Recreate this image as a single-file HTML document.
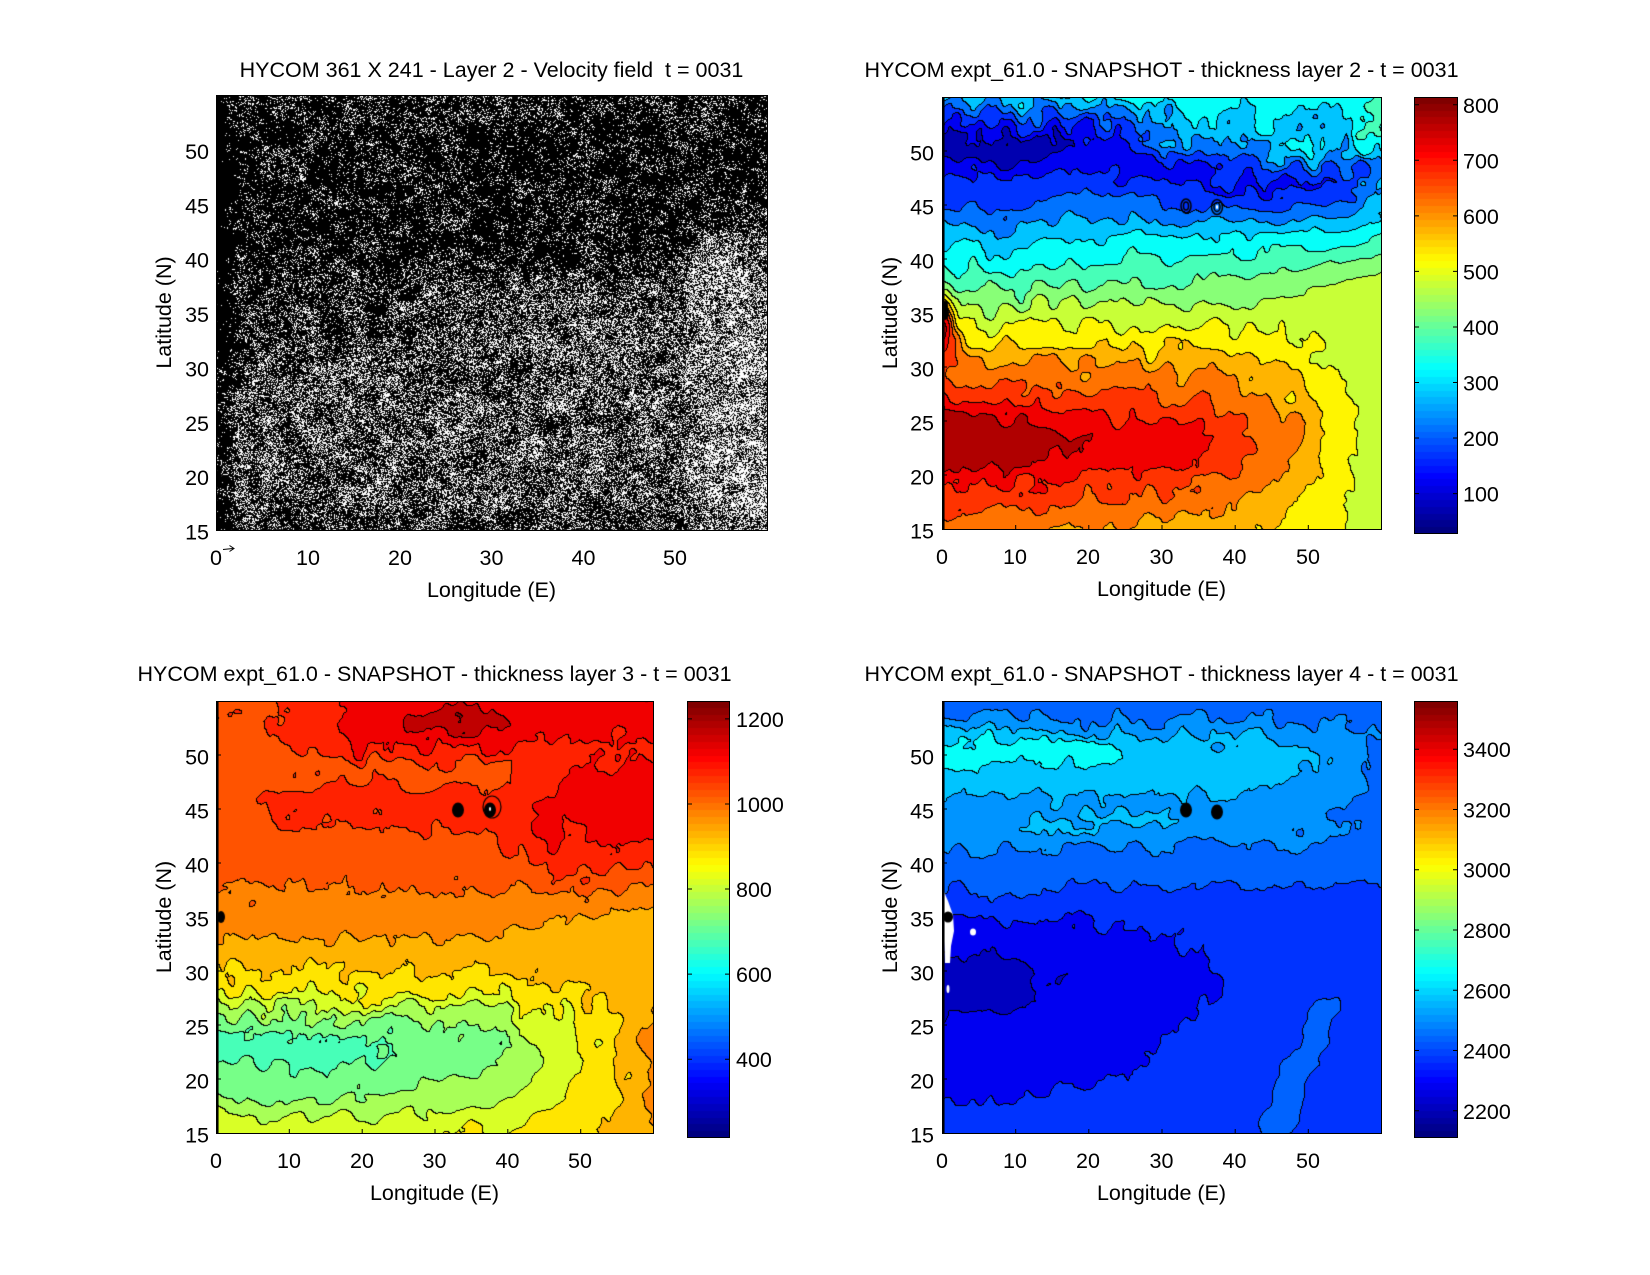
<!DOCTYPE html>
<html><head><meta charset="utf-8">
<style>
html,body{margin:0;padding:0;background:#fff;}
body{width:1650px;height:1275px;position:relative;overflow:hidden;font-family:"Liberation Sans",Arial,sans-serif;}
canvas{position:absolute;display:block;}
svg{position:absolute;left:0;top:0;}
</style></head><body>
<canvas id="c1" width="552" height="436" style="left:216px;top:95px"></canvas>
<canvas id="c2" width="440" height="433" style="left:942px;top:97px"></canvas>
<canvas id="c3" width="438" height="433" style="left:216px;top:701px"></canvas>
<canvas id="c4" width="440" height="433" style="left:942px;top:701px"></canvas>
<canvas id="cb2" width="44" height="437" style="left:1414px;top:97px"></canvas>
<canvas id="cb3" width="43" height="437" style="left:687px;top:701px"></canvas>
<canvas id="cb4" width="44" height="437" style="left:1414px;top:701px"></canvas>

<svg width="1650" height="1275" font-family="Liberation Sans, Arial, sans-serif" font-size="21.5" fill="#000">
<g fill="none" stroke="#000" stroke-width="1">
<!-- P1 -->
<rect x="216.5" y="95.5" width="551" height="435"/>
<path d="M216.5 530v-5M308.3 530v-5M400.2 530v-5M492 530v-5M583.8 530v-5M675.7 530v-5M216.5 96v5M308.3 96v5M400.2 96v5M492 96v5M583.8 96v5M675.7 96v5M217 475.6h5M217 421.3h5M217 366.9h5M217 312.5h5M217 258.1h5M217 203.8h5M217 149.4h5M767 475.6h-5M767 421.3h-5M767 366.9h-5M767 312.5h-5M767 258.1h-5M767 203.8h-5M767 149.4h-5"/>
<path d="M223 549.5L233 548.5M229.5 545.5L234 548.5L229.5 551.5"/>
<!-- P2 -->
<rect x="942.5" y="97.5" width="439" height="432"/>
<path d="M942.5 529v-4M1015.7 529v-4M1088.8 529v-4M1162 529v-4M1235.2 529v-4M1308.3 529v-4M943 475h4M943 421h4M943 367h4M943 313h4M943 259h4M943 205h4M943 151h4"/>
<rect x="1414.5" y="97.5" width="43" height="436"/>
<path d="M1415 493.6h4M1415 438h4M1415 382.5h4M1415 327h4M1415 271.4h4M1415 215.9h4M1415 160.3h4M1415 104.8h4M1457 493.6h-4M1457 438h-4M1457 382.5h-4M1457 327h-4M1457 271.4h-4M1457 215.9h-4M1457 160.3h-4M1457 104.8h-4"/>
<!-- P3 -->
<rect x="216.5" y="701.5" width="437" height="432"/>
<path d="M216.5 1133v-4M289.3 1133v-4M362.2 1133v-4M435 1133v-4M507.8 1133v-4M580.7 1133v-4M217 1079h4M217 1025h4M217 971h4M217 917h4M217 863h4M217 809h4M217 755h4"/>
<rect x="687.5" y="701.5" width="42" height="436"/>
<path d="M688 1059.2h4M688 974.1h4M688 889h4M688 804h4M688 718.9h4M729 1059.2h-4M729 974.1h-4M729 889h-4M729 804h-4M729 718.9h-4"/>
<!-- P4 -->
<rect x="942.5" y="701.5" width="439" height="432"/>
<path d="M942.5 1133v-4M1015.7 1133v-4M1088.8 1133v-4M1162 1133v-4M1235.2 1133v-4M1308.3 1133v-4M943 1079h4M943 1025h4M943 971h4M943 917h4M943 863h4M943 809h4M943 755h4"/>
<rect x="1414.5" y="701.5" width="43" height="436"/>
<path d="M1415 1110.8h4M1415 1050.5h4M1415 990.3h4M1415 930h4M1415 869.7h4M1415 809.5h4M1415 749.2h4M1457 1110.8h-4M1457 1050.5h-4M1457 990.3h-4M1457 930h-4M1457 869.7h-4M1457 809.5h-4M1457 749.2h-4"/>
</g>
<g stroke="#000" stroke-width="2.5">
<path d="M943.3 97v432M217.3 701v432M943.3 701v432"/>
</g>

<!-- P1 text -->
<text x="491.5" y="77" text-anchor="middle">HYCOM 361 X 241 - Layer 2 - Velocity field&#160; t = 0031</text>
<g text-anchor="middle">
<text x="216" y="565">0</text><text x="308" y="565">10</text><text x="400" y="565">20</text><text x="491.5" y="565">30</text><text x="583.5" y="565">40</text><text x="675" y="565">50</text>
</g>
<g text-anchor="end">
<text x="209" y="539.5">15</text><text x="209" y="485">20</text><text x="209" y="431">25</text><text x="209" y="376.5">30</text><text x="209" y="322">35</text><text x="209" y="267.5">40</text><text x="209" y="213.5">45</text><text x="209" y="159">50</text>
</g>
<text x="491.5" y="597" text-anchor="middle">Longitude (E)</text>
<text transform="translate(171,312.5) rotate(-90)" text-anchor="middle">Latitude (N)</text>

<!-- P2 text -->
<text x="1161.5" y="77" text-anchor="middle">HYCOM expt_61.0 - SNAPSHOT - thickness layer 2 - t = 0031</text>
<g text-anchor="middle">
<text x="942" y="564">0</text><text x="1015" y="564">10</text><text x="1088" y="564">20</text><text x="1161.5" y="564">30</text><text x="1234.5" y="564">40</text><text x="1308" y="564">50</text>
</g>
<g text-anchor="end">
<text x="934" y="538.5">15</text><text x="934" y="484.5">20</text><text x="934" y="430.5">25</text><text x="934" y="376.5">30</text><text x="934" y="322.5">35</text><text x="934" y="268.5">40</text><text x="934" y="214.5">45</text><text x="934" y="160.5">50</text>
</g>
<text x="1161.5" y="596" text-anchor="middle">Longitude (E)</text>
<text transform="translate(897,313) rotate(-90)" text-anchor="middle">Latitude (N)</text>
<g>
<text x="1463" y="501.6">100</text><text x="1463" y="446">200</text><text x="1463" y="390.5">300</text><text x="1463" y="335">400</text><text x="1463" y="279.4">500</text><text x="1463" y="223.9">600</text><text x="1463" y="168.3">700</text><text x="1463" y="112.8">800</text>
</g>

<!-- P3 text -->
<text x="434.5" y="681" text-anchor="middle">HYCOM expt_61.0 - SNAPSHOT - thickness layer 3 - t = 0031</text>
<g text-anchor="middle">
<text x="216" y="1168">0</text><text x="289" y="1168">10</text><text x="362" y="1168">20</text><text x="434.5" y="1168">30</text><text x="507.5" y="1168">40</text><text x="580" y="1168">50</text>
</g>
<g text-anchor="end">
<text x="209" y="1142.5">15</text><text x="209" y="1088.5">20</text><text x="209" y="1034.5">25</text><text x="209" y="980.5">30</text><text x="209" y="926.5">35</text><text x="209" y="872.5">40</text><text x="209" y="818.5">45</text><text x="209" y="764.5">50</text>
</g>
<text x="434.5" y="1200" text-anchor="middle">Longitude (E)</text>
<text transform="translate(171,917) rotate(-90)" text-anchor="middle">Latitude (N)</text>
<g>
<text x="736" y="1067.2">400</text><text x="736" y="982.1">600</text><text x="736" y="897">800</text><text x="736" y="812">1000</text><text x="736" y="726.9">1200</text>
</g>

<!-- P4 text -->
<text x="1161.5" y="681" text-anchor="middle">HYCOM expt_61.0 - SNAPSHOT - thickness layer 4 - t = 0031</text>
<g text-anchor="middle">
<text x="942" y="1168">0</text><text x="1015" y="1168">10</text><text x="1088" y="1168">20</text><text x="1161.5" y="1168">30</text><text x="1234.5" y="1168">40</text><text x="1308" y="1168">50</text>
</g>
<g text-anchor="end">
<text x="934" y="1142.5">15</text><text x="934" y="1088.5">20</text><text x="934" y="1034.5">25</text><text x="934" y="980.5">30</text><text x="934" y="926.5">35</text><text x="934" y="872.5">40</text><text x="934" y="818.5">45</text><text x="934" y="764.5">50</text>
</g>
<text x="1161.5" y="1200" text-anchor="middle">Longitude (E)</text>
<text transform="translate(897,917) rotate(-90)" text-anchor="middle">Latitude (N)</text>
<g>
<text x="1463" y="1118.8">2200</text><text x="1463" y="1058.5">2400</text><text x="1463" y="998.3">2600</text><text x="1463" y="938">2800</text><text x="1463" y="877.7">3000</text><text x="1463" y="817.5">3200</text><text x="1463" y="757.2">3400</text>
</g>
</svg>

<script>
(function(){
function clamp(x){return x<0?0:x>1?1:x;}
function jet(t){
  var r=clamp(Math.min(4*t-1.5,-4*t+4.5)),g=clamp(Math.min(4*t-0.5,-4*t+3.5)),b=clamp(Math.min(4*t+0.5,-4*t+2.5));
  return [Math.round(r*255),Math.round(g*255),Math.round(b*255)];
}
function jet64(v,vmin,vmax){var k=Math.floor((v-vmin)/(vmax-vmin)*64);if(k<0)k=0;if(k>63)k=63;return jet(k/63);}
function hash(i,j,s){var h=Math.imul(i,374761393)^Math.imul(j,668265263)^Math.imul(s+1,1442695041);h=Math.imul(h^(h>>>13),1274126177);h^=h>>>16;return (h>>>0)/4294967296;}
function vn(x,y,s){var xi=Math.floor(x),yi=Math.floor(y),xf=x-xi,yf=y-yi;xf=xf*xf*(3-2*xf);yf=yf*yf*(3-2*yf);
  var a=hash(xi,yi,s),b=hash(xi+1,yi,s),c=hash(xi,yi+1,s),d=hash(xi+1,yi+1,s);
  var t1=a+(b-a)*xf,t2=c+(d-c)*xf;return t1+(t2-t1)*yf;}
function fbm(x,y,s){var sum=0,amp=1,tot=0;for(var o=0;o<3;o++){sum+=amp*(vn(x,y,s+o*17)*2-1);tot+=amp;amp*=0.5;x*=2.03;y*=2.03;}return sum/tot;}
function fbm2(x,y,s){var sum=0,amp=1,tot=0;for(var o=0;o<2;o++){sum+=amp*(vn(x,y,s+o*17)*2-1);tot+=amp;amp*=0.4;x*=2.03;y*=2.03;}return sum/tot;}
function interp(tb,x){if(x<=tb[0][0])return tb[0][1];for(var i=1;i<tb.length;i++){if(x<=tb[i][0]){var a=tb[i-1],b=tb[i];return a[1]+(b[1]-a[1])*(x-a[0])/(b[0]-a[0]);}}return tb[tb.length-1][1];}
function sm(a,b,x){var t=(x-a)/(b-a);t=t<0?0:t>1?1:t;return t*t*(3-2*t);}

function drawContour(id,f,vmin,vmax,step,off,extra){
  var cv=document.getElementById(id),W=cv.width,H=cv.height,ctx=cv.getContext('2d');
  var img=ctx.createImageData(W,H),d=img.data,q=new Int32Array(W*H),cache={};
  for(var y=0;y<H;y++){var lat=55-(y+0.5)/H*40;
    for(var x=0;x<W;x++){var lon=(x+0.5)/W*60;q[y*W+x]=Math.floor((f(lon,lat)-off)/step);}}
  for(var y=0;y<H;y++)for(var x=0;x<W;x++){
    var k=q[y*W+x],c;
    var edge=(x<W-1&&q[y*W+x+1]!==k)||(y<H-1&&q[(y+1)*W+x]!==k);
    if(edge)c=[0,0,0];else{c=cache[k];if(!c){c=jet64(off+(k+0.5)*step,vmin,vmax);cache[k]=c;}}
    var p=(y*W+x)*4;d[p]=c[0];d[p+1]=c[1];d[p+2]=c[2];d[p+3]=255;}
  ctx.putImageData(img,0,0);
  if(extra)extra(ctx,W,H);
}
function ell(ctx,x,y,rx,ry,fill){ctx.beginPath();ctx.ellipse(x,y,rx,ry,0,0,Math.PI*2);if(fill){ctx.fillStyle=fill;ctx.fill();}else ctx.stroke();}

/* Panel 2 */
var G2=[[15,610],[17,655],[19,705],[21,770],[23,795],[25,760],[27,700],[29,645],[31,590],[33,525],[35,465],[37,405],[39,350],[41,300],[43,250],[45,200],[47,155],[49,95],[50.5,60],[52,120],[53.5,210],[55,290],[57,320]];
var WS2=[[0,1],[10,0.97],[17,0.88],[25,0.82],[35,0.74],[40,0.64],[45,0.51],[50,0.32],[55,0.12],[58,0.03],[60,0]];
var WN2=[[0,1],[12,1],[18,0.9],[25,0.86],[35,0.83],[45,0.8],[52,0.78],[56,0.74],[58,0.66],[60,0.52]];
function f2(lon,lat){
  var n1=fbm2(lon/2.2,lat/1.8,11),n2=fbm2(lon/1.0,lat/0.9,23);
  var lp=lat+1.7*n1+0.35*n2;
  lp+=3.8*sm(15,42,lon)*sm(41.5,46,lat)*(1-0.75*sm(49,54,lat));
  var g=interp(G2,lp),E=478-3*Math.max(0,lat-38),t=sm(36,42,lat);
  var w=interp(WS2,lon+2.5*n1)*(1-t)+interp(WN2,lon+4*n1)*t;
  var v=E+(g-E)*w;
  v+=260*Math.exp(-Math.pow((lon-0.2)/1.5,2)-Math.pow((lat-33.5)/2.8,2));
  v+=6*n2;return v;
}
drawContour('c2',f2,29,814,50,0,function(ctx,W,H){
  ctx.fillStyle='#000';ctx.fillRect(0,0,2,H);
  ell(ctx,3,216,4,7,'#000');ell(ctx,3,208,3,4,'#000');
  ctx.strokeStyle='#000';ctx.lineWidth=1.5;
  ell(ctx,244,109,5,7);ell(ctx,244,109,2.5,4);ell(ctx,275,110,5.5,7.5);ell(ctx,275,110,3,4.5);
  ell(ctx,275,110,1.2,2,'#fff');
});

/* Panel 3 */
var G3=[[15,840],[16.5,800],[18,760],[20,720],[22,690],[24,700],[26,760],[27.5,840],[29,880],[31,915],[33,950],[35,975],[37,995],[39,1010],[41,1020],[43,1035],[46,1040],[48,1030],[51,1040],[53,1050],[55,1045]];
var WS3=[[0,1],[20,1],[30,0.9],[40,0.75],[45,0.55],[50,0.35],[55,0.15],[58,0],[60,-0.2]];
function f3(lon,lat){
  var n1=fbm2(lon/2.2,lat/1.8,31),n2=fbm2(lon/1.0,lat/0.9,37);
  var lp=lat+1.6*n1+0.35*n2,g=interp(G3,lp),E=925,t=sm(33,39,lat);
  var w=interp(WS3,lon+2.5*n1);
  var v=(E+(g-E)*w)*(1-t)+g*t;
  var a1=60*sm(8,20,lon)*sm(48.5,51,lp);
  var a2=55*sm(3,12,lon)*Math.exp(-Math.pow((lp-45.5)/1.6,2));
  var a3=80*sm(36,50,lon+5*n1)*Math.exp(-Math.pow((lp-45)/6.5,4));
  v+=Math.max(a1,a2,a3);
  v+=90*Math.exp(-Math.pow((lon-33)/8,2)-Math.pow((lp-53.3)/1.3,2));
  v+=6*n2;return v;
}
drawContour('c3',f3,217,1242,50,0,function(ctx,W,H){
  ctx.fillStyle='#000';ctx.fillRect(0,0,2,H);
  ell(ctx,5,216,4,6,'#000');
  ell(ctx,242,109,6,7.5,'#000');ell(ctx,274,109,6,7.5,'#000');
  ctx.strokeStyle='#000';ctx.lineWidth=1.2;ell(ctx,276,106,9,11);
  ell(ctx,274,108,1,2,'#fff');
});

/* Panel 4 */
var G4=[[15,2320],[17,2310],[18.5,2295],[20,2275],[23,2265],[25,2250],[27,2205],[29,2195],[31,2210],[33,2255],[34.5,2290],[36,2330],[37,2360],[38,2385],[39,2405],[40,2420],[41,2440],[42,2470],[43,2505],[44,2515],[45,2490],[46,2520],[47,2555],[48,2565],[49,2575],[50,2570],[51,2560],[52,2520],[53,2470],[54,2410],[55,2400]];
var WS4=[[0,1],[8,0.95],[15,0.8],[25,0.65],[35,0.4],[40,0.15],[45,0],[60,0]];
var WN4=[[0,1],[25,1],[35,0.9],[45,0.82],[52,0.75],[56,0.55],[60,0.3]];
function f4(lon,lat){
  var n1=fbm2(lon/2.2,lat/1.8,41),n2=fbm2(lon/1.0,lat/0.9,47);
  var lp=lat+1.5*n1+0.35*n2,g=interp(G4,lp),t=sm(34,40,lat);
  var ws=interp(WS4,lon+3*n1),wn=interp(WN4,lon+4*n1);
  var vs=2345+(g-2345)*ws,vnn=2380+(g-2380)*wn;
  var v=vs*(1-t)+vnn*t;
  v+=90*Math.exp(-Math.pow((lp-50.2)/1.3,2))*sm(28,20,lon+3*n1);
  v+=30*Math.exp(-Math.pow((lp-43.7)/0.8,2))*sm(8,14,lon)*sm(38,30,lon);
  var cx=45+(lat-15)*0.65+1.5*n1;v+=60*Math.exp(-Math.pow((lon-cx)/2.6,2))*sm(30,25,lat);
  v+=5*n2;return v+25;
}
drawContour('c4',f4,2113,3560,75,2175,function(ctx,W,H){
  ctx.fillStyle='#000';ctx.fillRect(0,0,2,H);
  ctx.fillStyle='#fff';ctx.beginPath();
  ctx.moveTo(2,191);ctx.lineTo(6,200);ctx.lineTo(11,214);ctx.lineTo(12,230);ctx.lineTo(9,245);ctx.lineTo(8,262);ctx.lineTo(3,262);ctx.lineTo(2,240);ctx.closePath();ctx.fill();
  ell(ctx,31,231,3,3.5,'#fff');ell(ctx,6,288,1.5,4,'#fff');
  ell(ctx,6,216,5,5.5,'#000');
  ell(ctx,244,109,6,7.5,'#000');ell(ctx,275,111,6,7.5,'#000');
});

/* Colorbars */
function drawCB(id){
  var cv=document.getElementById(id),W=cv.width,H=cv.height,ctx=cv.getContext('2d');
  for(var i=0;i<64;i++){var c=jet(i/63);ctx.fillStyle='rgb('+c[0]+','+c[1]+','+c[2]+')';
    var y0=Math.round(H-(i+1)*H/64),y1=Math.round(H-i*H/64);ctx.fillRect(0,y0,W,y1-y0);}
}
drawCB('cb2');drawCB('cb3');drawCB('cb4');

/* Panel 1 velocity field texture */
(function(){
  var cv=document.getElementById('c1'),W=cv.width,H=cv.height,ctx=cv.getContext('2d');
  var img=ctx.createImageData(W,H),d=img.data;
  for(var y=0;y<H;y++){var lat=55-(y+0.5)/H*40;
    for(var x=0;x<W;x++){var lon=(x+0.5)/W*60;
      var north=sm(36,41,lat);
      var D=0.66*(1-north)+(0.9-0.4*sm(49,55,lon)*sm(45,40,lat)-0.06*sm(51,54,lat))*north;
      D+=0.14*sm(29,33,lat)*(1-north)*sm(30,18,lon);
      D-=0.2*sm(49,54,lon)*(1-north);
      D+=0.3*sm(3,0.5,lon);
      D+=0.1*sm(18,16,lat);
      D+=0.3*fbm(lon/1.3,lat/1.1,71);
      D+=0.3*(vn(x/2.2,y/1.6,83)*2-1);
      var r=hash(x,y,5);
      var c=r<D?0:255;
      var p=(y*W+x)*4;d[p]=c;d[p+1]=c;d[p+2]=c;d[p+3]=255;}}
  ctx.putImageData(img,0,0);
})();
})();
</script>
</body></html>
